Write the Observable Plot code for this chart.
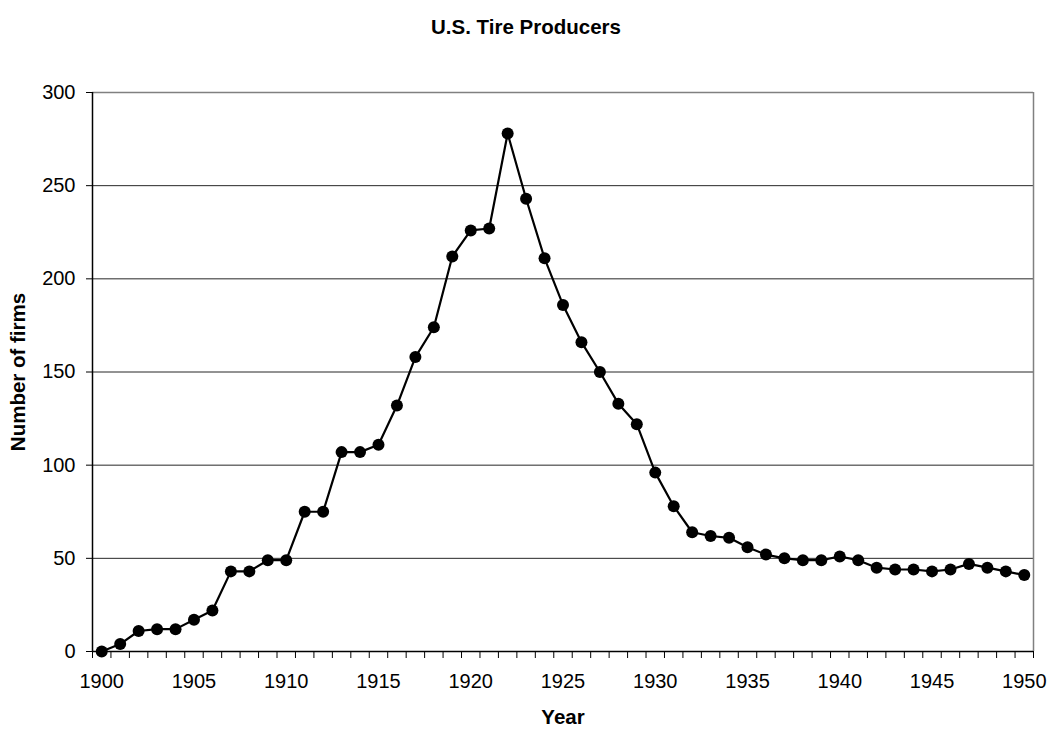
<!DOCTYPE html>
<html>
<head>
<meta charset="utf-8">
<script src="https://cdn.jsdelivr.net/npm/d3@7"></script>
<script src="https://cdn.jsdelivr.net/npm/@observablehq/plot@0.6"></script>
<style>
  html, body { margin: 0; padding: 0; background: #fff; }
  #title { height: 50px; line-height: 54px; text-align: center; font-family: "Liberation Sans", Arial, sans-serif; font-weight: bold; font-size: 20.5px; color: #000; width: 1052px; }
  #chart svg { display: block; }
</style>
</head>
<body>
<div id="title">U.S. Tire Producers</div>
<div id="chart"></div>
<script>
const years = d3.range(1900, 1951);
const firms = [0,4,11,12,12,17,22,43,43,49,
               49,75,75,107,107,111,132,158,174,212,
               226,227,278,243,211,186,166,150,133,122,
               96,78,64,62,61,56,52,50,49,49,
               51,49,45,44,44,43,44,47,45,43,
               41];
const xTickLabels = [1900,1905,1910,1915,1920,1925,1930,1935,1940,1945,1950];
const yTicks = [0,50,100,150,200,250,300];
const xBoundaries = d3.range(1899.5, 1951, 1);

const data = years.map((y, i) => ({year: y, firms: firms[i]}));

const chart = Plot.plot({
  width: 1052,
  height: 682,
  marginLeft: 92,
  marginRight: 19,
  marginTop: 42,
  marginBottom: 81,
  style: {fontFamily: "'Liberation Sans', Arial, sans-serif", fontSize: "20px", color: "#000", background: "#fff"},
  x: {domain: [1899.5, 1950.5]},
  y: {domain: [0, 300]},
  marks: [
    Plot.gridY(yTicks.filter(d => d > 0 && d < 300), {stroke: "#000", strokeOpacity: 0.85, strokeWidth: 1}),
    Plot.ruleY([300], {stroke: "#808080", strokeWidth: 1.5}),
    Plot.ruleX([1950.5], {stroke: "#808080", strokeWidth: 1.5}),
    Plot.ruleY([0], {stroke: "#000", strokeWidth: 1.5}),
    Plot.ruleX([1899.5], {stroke: "#000", strokeWidth: 1.5}),
    Plot.axisY({ticks: yTicks, tickSize: 6, tickPadding: 11, label: null, fontSize: 20, stroke: "#000"}),
    Plot.axisX({ticks: xBoundaries, tickSize: 7, tickFormat: () => "", label: null, stroke: "#000"}),
    Plot.axisX({ticks: xTickLabels, tickSize: 0, tickPadding: 22, tickFormat: d => String(d), label: null, fontSize: 20}),
    Plot.text(["Number of firms"], {frameAnchor: "left", dx: -74, rotate: -90, textAnchor: "middle", lineAnchor: "middle", fontWeight: "bold", fontSize: 20.5, fill: "#000"}),
    Plot.text(["Year"], {frameAnchor: "bottom", dy: 66, textAnchor: "middle", lineAnchor: "middle", fontWeight: "bold", fontSize: 20.5, fill: "#000"}),
    Plot.line(data, {x: "year", y: "firms", stroke: "#000", strokeWidth: 2.2}),
    Plot.dot(data, {x: "year", y: "firms", r: 6, fill: "#000", stroke: "none"})
  ]
});
document.getElementById("chart").appendChild(chart);
</script>
</body>
</html>
